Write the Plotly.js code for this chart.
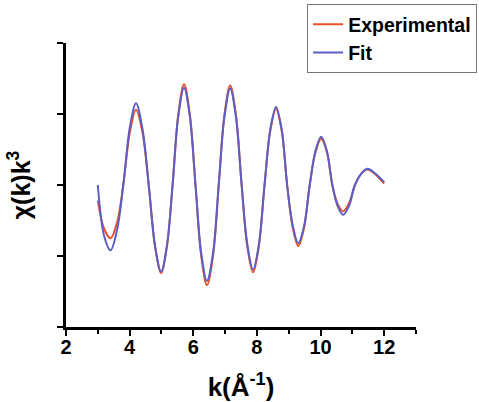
<!DOCTYPE html>
<html>
<head>
<meta charset="utf-8">
<script src="https://cdn.plot.ly/plotly-3.0.1.min.js"></script>
<style>html,body{margin:0;padding:0;background:#fff;}#chart{width:479px;height:402px;}</style>
</head>
<body>
<div id="chart"></div>
<script>
// k values (Å^-1)
const kValues = [3.0, 3.2, 3.4, 3.61, 3.8, 4.01, 4.2, 4.4, 4.6, 4.8, 4.99, 5.17, 5.35, 5.53, 5.71, 5.89, 6.07, 6.25, 6.43, 6.62, 6.8, 6.98, 7.16, 7.34, 7.52, 7.7, 7.88, 8.06, 8.24, 8.42, 8.6, 8.78, 8.95, 9.13, 9.3, 9.48, 9.66, 9.84, 10.02, 10.2, 10.37, 10.54, 10.71, 10.9, 11.08, 11.28, 11.47, 11.7, 12.0];
const experimental = [-0.22, -0.62, -0.75, -0.52, 0.0, 0.75, 1.06, 0.75, 0.0, -0.87, -1.24, -0.87, 0.0, 1.0, 1.42, 1.0, 0.0, -1.0, -1.41, -1.0, 0.0, 0.99, 1.40, 0.99, 0.0, -0.87, -1.23, -0.87, 0.0, 0.76, 1.07, 0.76, 0.0, -0.61, -0.86, -0.61, 0.0, 0.46, 0.65, 0.46, 0.0, -0.27, -0.37, -0.25, 0.0, 0.16, 0.22, 0.16, 0.02];
const fit = [0.0, -0.72, -0.92, -0.62, 0.0, 0.82, 1.15, 0.8, 0.0, -0.86, -1.22, -0.86, 0.0, 0.97, 1.37, 0.97, 0.0, -0.96, -1.35, -0.96, 0.0, 0.96, 1.36, 0.96, 0.0, -0.84, -1.19, -0.84, 0.0, 0.78, 1.10, 0.78, 0.0, -0.58, -0.82, -0.58, 0.0, 0.48, 0.68, 0.48, 0.0, -0.3, -0.42, -0.29, 0.0, 0.16, 0.23, 0.17, 0.04];
const xTicks = [2, 4, 6, 8, 10, 12];
const seriesNames = ['Experimental', 'Fit'];

const fontFam = 'Liberation Sans, Arial, sans-serif';
const traces = [
  {x: kValues, y: experimental, name: seriesNames[0], mode: 'lines',
   line: {color: '#e8502a', width: 2, shape: 'spline', smoothing: 1}},
  {x: kValues, y: fit, name: seriesNames[1], mode: 'lines',
   line: {color: '#5a5fc8', width: 2, shape: 'spline', smoothing: 1}}
];
const layout = {
  width: 479, height: 402,
  margin: {l: 66, r: 63, t: 43, b: 75, autoexpand: false},
  paper_bgcolor: '#fff', plot_bgcolor: '#fff',
  font: {family: fontFam, color: '#000', weight: 'bold'},
  showlegend: true,
  legend: {x: 0.689, y: 1.137, xanchor: 'left', yanchor: 'top',
    bordercolor: '#777', borderwidth: 1, bgcolor: '#fff',
    font: {size: 19.5, family: fontFam, weight: 'bold', color: '#000'},
    itemwidth: 30, tracegroupgap: 0},
  xaxis: {range: [2, 13], tickvals: xTicks, ticktext: xTicks.map(String),
    ticks: 'outside', ticklen: 6, tickwidth: 2, tickcolor: '#000',
    minor: {dtick: 2, tick0: 3, ticks: 'outside', ticklen: 4, tickwidth: 2, tickcolor: '#000'},
    showline: true, linewidth: 3, linecolor: '#000', showgrid: false, zeroline: false,
    ticklabelstandoff: -6,
    tickfont: {size: 20, family: fontFam, weight: 'bold'},
    title: {text: 'k(Å<sup>-1</sup>)', font: {size: 26, family: fontFam, weight: 'bold'}, standoff: 22}},
  yaxis: {range: [-2, 2], dtick: 1, tick0: 0, showticklabels: false,
    ticks: 'outside', ticklen: 6, tickwidth: 2, tickcolor: '#000',
    showline: true, linewidth: 3, linecolor: '#000', showgrid: false, zeroline: false,
    title: {text: 'χ(k)k<sup>3</sup>', font: {size: 25, family: fontFam, weight: 'bold'}, standoff: 20}}
};
Plotly.newPlot('chart', traces, layout, {staticPlot: true, displayModeBar: false});
</script>
</body>
</html>
